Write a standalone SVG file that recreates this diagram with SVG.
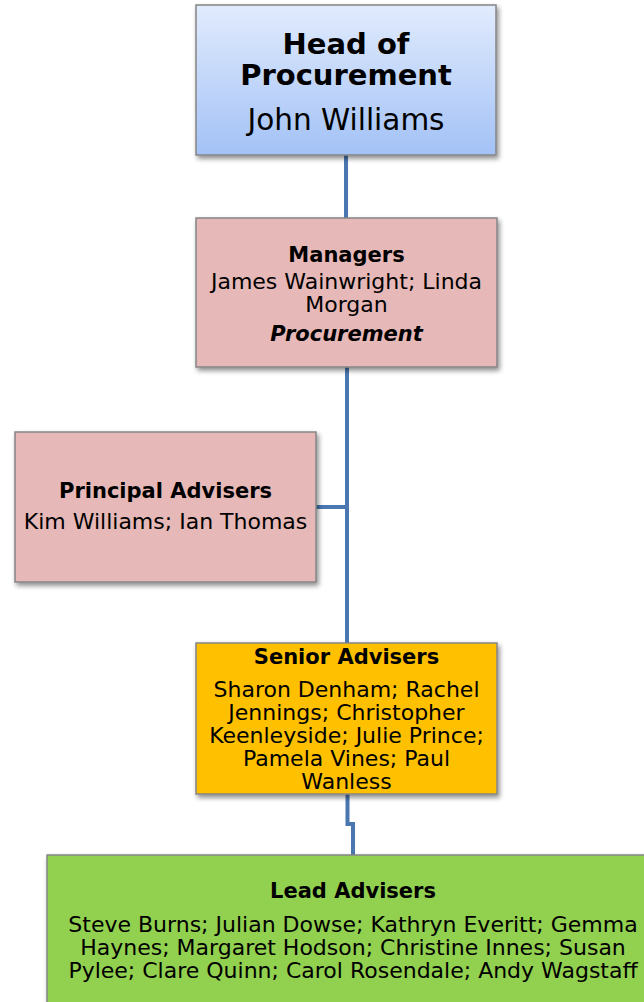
<svg xmlns="http://www.w3.org/2000/svg" width="644" height="1002" viewBox="0 0 644 1002">
<defs>
<linearGradient id="gBlue" x1="0" y1="0" x2="0" y2="1">
<stop offset="0" stop-color="#e1ebfd"/>
<stop offset="1" stop-color="#a3c2f6"/>
</linearGradient>
<filter id="sh" x="-10%" y="-10%" width="125%" height="130%">
<feGaussianBlur in="SourceAlpha" stdDeviation="2.5"/>
<feOffset dx="2" dy="3" result="b"/>
<feComponentTransfer><feFuncA type="linear" slope="0.45"/></feComponentTransfer>
<feMerge><feMergeNode/><feMergeNode in="SourceGraphic"/></feMerge>
</filter>
<style>
.box{stroke:#858585;stroke-width:1.5;filter:url(#sh)}
.t{font-family:"DejaVu Sans","Verdana",sans-serif;fill:#000;text-anchor:middle;font-size:22px}
.b{font-weight:bold;font-size:21px}
.h{font-size:29px}
.c{fill:none;stroke:#4a77b0;stroke-width:4}
</style>
</defs>
<rect width="644" height="1002" fill="#fff"/>
<g id="connectors">
<path class="c" d="M346 155 V218"/>
<path class="c" d="M347 367 V643"/>
<path class="c" d="M316 507 H347"/>
<path class="c" d="M347.5 794 V824 H353 V855"/>
</g>
<g id="head">
<rect class="box" x="196" y="5" width="300" height="150" fill="url(#gBlue)" stroke="#8793a8"/>
<text class="t b h" x="346" y="54">Head of</text>
<text class="t b h" x="346" y="85">Procurement</text>
<text class="t h" x="346" y="130" style="font-size:29.5px">John Williams</text>
</g>
<g id="managers">
<rect class="box" x="196" y="218" width="301" height="149" fill="#e6b8b7"/>
<text class="t b" x="346.5" y="262">Managers</text>
<text class="t" x="346.5" y="289">James Wainwright; Linda</text>
<text class="t" x="346.5" y="312">Morgan</text>
<text class="t b" x="346.5" y="341" font-style="italic">Procurement</text>
</g>
<g id="principal">
<rect class="box" x="15" y="432" width="301" height="150" fill="#e6b8b7"/>
<text class="t b" x="165.5" y="498">Principal Advisers</text>
<text class="t" x="165.5" y="529">Kim Williams; Ian Thomas</text>
</g>
<g id="senior">
<rect class="box" x="196" y="643" width="301" height="151" fill="#ffc000"/>
<text class="t b" x="346.5" y="664">Senior Advisers</text>
<text class="t" x="346.5" y="697">Sharon Denham; Rachel</text>
<text class="t" x="346.5" y="720">Jennings; Christopher</text>
<text class="t" x="346.5" y="743">Keenleyside; Julie Prince;</text>
<text class="t" x="346.5" y="766">Pamela Vines; Paul</text>
<text class="t" x="346.5" y="789">Wanless</text>
</g>
<g id="lead">
<rect class="box" x="47" y="855" width="612" height="152" fill="#92d050"/>
<text class="t b" x="353" y="898">Lead Advisers</text>
<text class="t" x="353" y="932">Steve Burns; Julian Dowse; Kathryn Everitt; Gemma</text>
<text class="t" x="353" y="955">Haynes; Margaret Hodson; Christine Innes; Susan</text>
<text class="t" x="353" y="978">Pylee; Clare Quinn; Carol Rosendale; Andy Wagstaff</text>
</g>
</svg>
